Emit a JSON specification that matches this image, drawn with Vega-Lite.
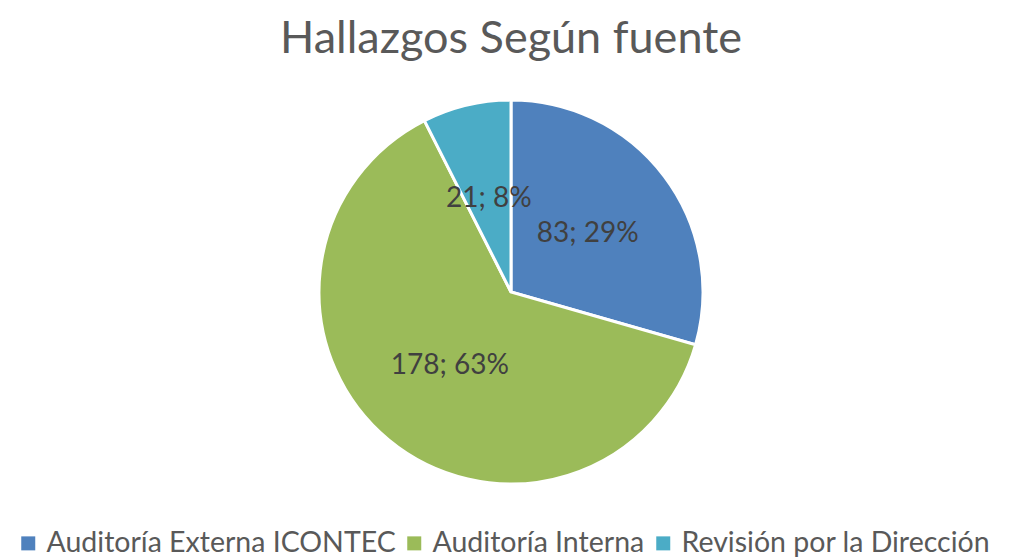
{
  "$schema": "https://vega.github.io/schema/vega-lite/v6.json",
  "width": 1012,
  "height": 384,
  "padding": {"left": 5, "top": 100, "right": 0, "bottom": 74},
  "autosize": {"type": "none"},
  "background": "white",
  "title": {
    "text": "Hallazgos Según fuente",
    "font": "Lato",
    "fontSize": 45,
    "fontWeight": "normal",
    "color": "#595959",
    "offset": 32,
    "anchor": "middle"
  },
  "data": {
    "values": [
      {"fuente": "Auditoría Externa ICONTEC", "hallazgos": 83, "orden": 1, "etiqueta": "83; 29%"},
      {"fuente": "Auditoría Interna", "hallazgos": 178, "orden": 2, "etiqueta": "178; 63%"},
      {"fuente": "Revisión por la Dirección", "hallazgos": 21, "orden": 3, "etiqueta": "21; 8%"}
    ]
  },
  "encoding": {
    "theta": {"field": "hallazgos", "type": "quantitative", "stack": true},
    "order": {"field": "orden", "type": "ordinal"},
    "color": {
      "field": "fuente",
      "type": "nominal",
      "scale": {
        "domain": ["Auditoría Externa ICONTEC", "Auditoría Interna", "Revisión por la Dirección"],
        "range": ["#4F81BD", "#9BBB59", "#4BACC6"]
      },
      "legend": {
        "orient": "none",
        "legendX": 9,
        "legendY": 429,
        "direction": "horizontal",
        "title": null,
        "symbolType": "square",
        "symbolSize": 196,
        "symbolStrokeWidth": 0,
        "labelFont": "Lato",
        "labelFontSize": 28.5,
        "labelColor": "#595959",
        "columnPadding": 4,
        "labelOffset": 4,
        "padding": 0,
        "labelLimit": 500
      }
    }
  },
  "layer": [
    {
      "mark": {"type": "arc", "outerRadius": 192, "stroke": "white", "strokeWidth": 3}
    },
    {
      "mark": {"type": "text", "radius": 96, "font": "Lato", "fontSize": 28},
      "encoding": {
        "text": {"field": "etiqueta", "type": "nominal"},
        "color": {"value": "#404040"}
      }
    }
  ]
}
